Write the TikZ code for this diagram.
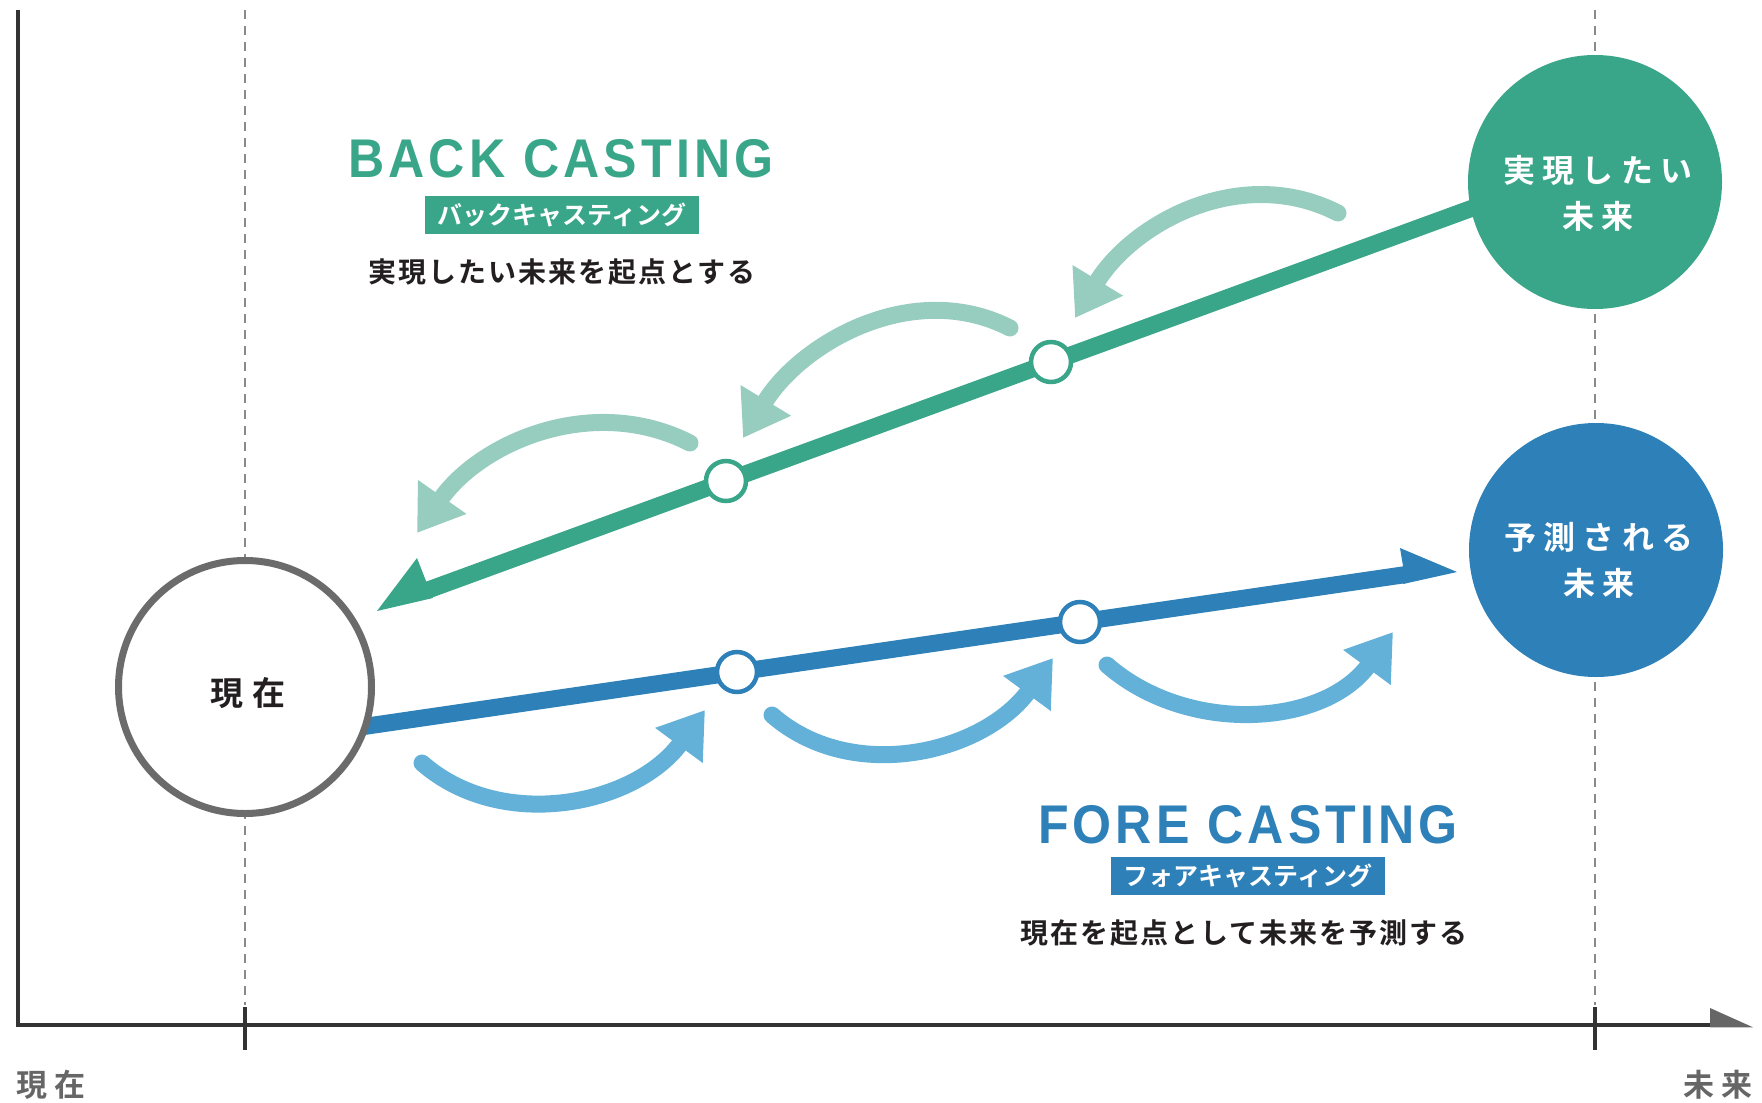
\documentclass[tikz,border=0pt]{standalone}
\usepackage{fontspec}
\usetikzlibrary{arrows.meta}
\newfontfamily\jpb{Noto Sans CJK JP Bold}
\newfontfamily\jpbs{Noto Sans CJK JP Bold}[LetterSpace=7]
\newfontfamily\jpbw{Noto Sans CJK JP Bold}[LetterSpace=22]
\newfontfamily\jpbx{Noto Sans CJK JP Bold}[LetterSpace=30]
\newfontfamily\jpbax{Noto Sans CJK JP Bold}[LetterSpace=22]
\newfontfamily\latb{Liberation Sans Bold}[FakeStretch=0.92,LetterSpace=7.5]
\definecolor{mygreen}{HTML}{3AA689}
\definecolor{lightgreen}{HTML}{96CDBF}
\definecolor{myblue}{HTML}{2E80B8}
\definecolor{lightblue}{HTML}{63B1D8}
\definecolor{txtdark}{HTML}{231F20}
\definecolor{axisdark}{HTML}{333333}
\definecolor{axisgray}{HTML}{666666}
\definecolor{guidegray}{HTML}{8A8A8A}
\definecolor{nowgray}{HTML}{6B6B6B}
\begin{document}
\begin{tikzpicture}[x=1pt,y=-1pt,
  guide/.style={draw=guidegray,line width=1.8pt,dash pattern=on 9pt off 7pt},
  axisline/.style={draw=axisdark,line width=4.5pt},
  mainline/.style={line width=17pt},
  dotnode/.style={circle,minimum size=40pt,inner sep=0pt,line width=4.5pt,fill=white},
  bigcirc/.style={circle,minimum size=254pt,inner sep=0pt,text=white,align=center,
     font=\jpbw\fontsize{32}{46}\selectfont},
  larc/.style={line width=17pt,line cap=round,-{Triangle[length=44pt,width=56pt]}},
  tagbox/.style={minimum width=274pt,minimum height=38pt,inner sep=0pt,text=white,
     font=\jpb\fontsize{25}{25}\selectfont},
  title/.style={anchor=base,font=\latb\fontsize{54.5}{60}\selectfont},
  subtitle/.style={text=txtdark,font=\jpbs\fontsize{28}{30}\selectfont},
  axislabel/.style={text=axisgray,font=\jpbax\fontsize{31}{31}\selectfont}
]
\useasboundingbox (0,0) rectangle (1762,1103);

% guide lines
\coordinate (gl1) at (245,10); \coordinate (gl2) at (245,1005);
\coordinate (gr1) at (1595,10); \coordinate (gr2) at (1595,1005);
\draw[guide] (gl1) -- (gl2);
\draw[guide] (gr1) -- (gr2);

% axes
\coordinate (ytop) at (18,10);
\coordinate (xend) at (1712,1025);
\draw[axisline,line join=miter] (ytop) |- (xend);
\fill[axisgray] (1710,1008) -- (1753,1027.3) -- (1710,1027.3) -- cycle;
\coordinate (t1a) at (245,1007); \coordinate (t1b) at (245,1050);
\coordinate (t2a) at (1595,1007); \coordinate (t2b) at (1595,1050);
\draw[axisline] (t1a) -- (t1b);
\draw[axisline] (t2a) -- (t2b);
\node[axislabel] (lnow) at (51,1085) {現在};
\node[axislabel] (lfut) at (1718,1085) {未来};

% green main arrow (back casting)
\coordinate (gs) at (1500,198);
\coordinate (ge) at (428,590);
\draw[mainline,draw=mygreen] (gs) -- (ge);
\fill[mygreen] (377,611) -- (417,558) -- (426,581) -- (433,598) -- cycle;

% blue main arrow (fore casting)
\coordinate (bs) at (340,730);
\coordinate (be) at (1406,574.5);
\draw[mainline,draw=myblue] (bs) -- (be);
\fill[myblue] (1457,572) -- (1400,548) -- (1403,566) -- (1403,584) -- cycle;

% light green curved arrows
\coordinate (ga1) at (1338,213); \coordinate (gt1) at (1075,318);
\coordinate (ga2) at (1010,328); \coordinate (gt2) at (743,438);
\coordinate (ga3) at (690,443);  \coordinate (gt3) at (417,533);
\draw[larc,draw=lightgreen] (ga1) .. controls (1240,163) and (1132,224) .. (gt1);
\draw[larc,draw=lightgreen] (ga2) .. controls (912,278) and (800,344) .. (gt2);
\draw[larc,draw=lightgreen] (ga3) .. controls (592,393) and (480,443) .. (gt3);

% light blue curved arrows
\coordinate (ba1) at (422,763);  \coordinate (bt1) at (705,710);
\coordinate (ba2) at (772,715);  \coordinate (bt2) at (1053,658);
\coordinate (ba3) at (1107,665); \coordinate (bt3) at (1393,632);
\draw[larc,draw=lightblue] (ba1) .. controls (502,833) and (635,805) .. (bt1);
\draw[larc,draw=lightblue] (ba2) .. controls (852,785) and (983,753) .. (bt2);
\draw[larc,draw=lightblue] (ba3) .. controls (1187,735) and (1323,727) .. (bt3);

% small waypoint circles
\node[dotnode,draw=mygreen] (g1) at (1051,362) {};
\node[dotnode,draw=mygreen] (g2) at (726,481) {};
\node[dotnode,draw=myblue] (b1) at (737,672) {};
\node[dotnode,draw=myblue] (b2) at (1080,622) {};

% big circles
\node[circle,minimum size=253pt,inner sep=0pt,draw=nowgray,line width=7pt,fill=white] (now) at (245,687) {};
\node[text=txtdark,font=\jpbx\fontsize{33}{33}\selectfont] (nowtxt) at (248,693) {現在};
\node[bigcirc,fill=mygreen] (want) at (1595,182) {};
\node[bigcirc] (wanttxt) at (1598,193) {実現したい\\未来};
\node[bigcirc,fill=myblue] (pred) at (1596,550) {};
\node[bigcirc] (predtxt) at (1599,560) {予測される\\未来};

% back casting texts
\node[title,text=mygreen] (bktitle) at (561,177) {BACK CASTING};
\node[tagbox,fill=mygreen] (bktag) at (562,215) {バックキャスティング};
\node[subtitle] (bksub) at (562,272) {実現したい未来を起点とする};

% fore casting texts
\node[title,text=myblue] (fctitle) at (1248,843) {FORE CASTING};
\node[tagbox,fill=myblue] (fctag) at (1248,876) {フォアキャスティング};
\node[subtitle] (fcsub) at (1244,933) {現在を起点として未来を予測する};
\end{tikzpicture}
\end{document}
